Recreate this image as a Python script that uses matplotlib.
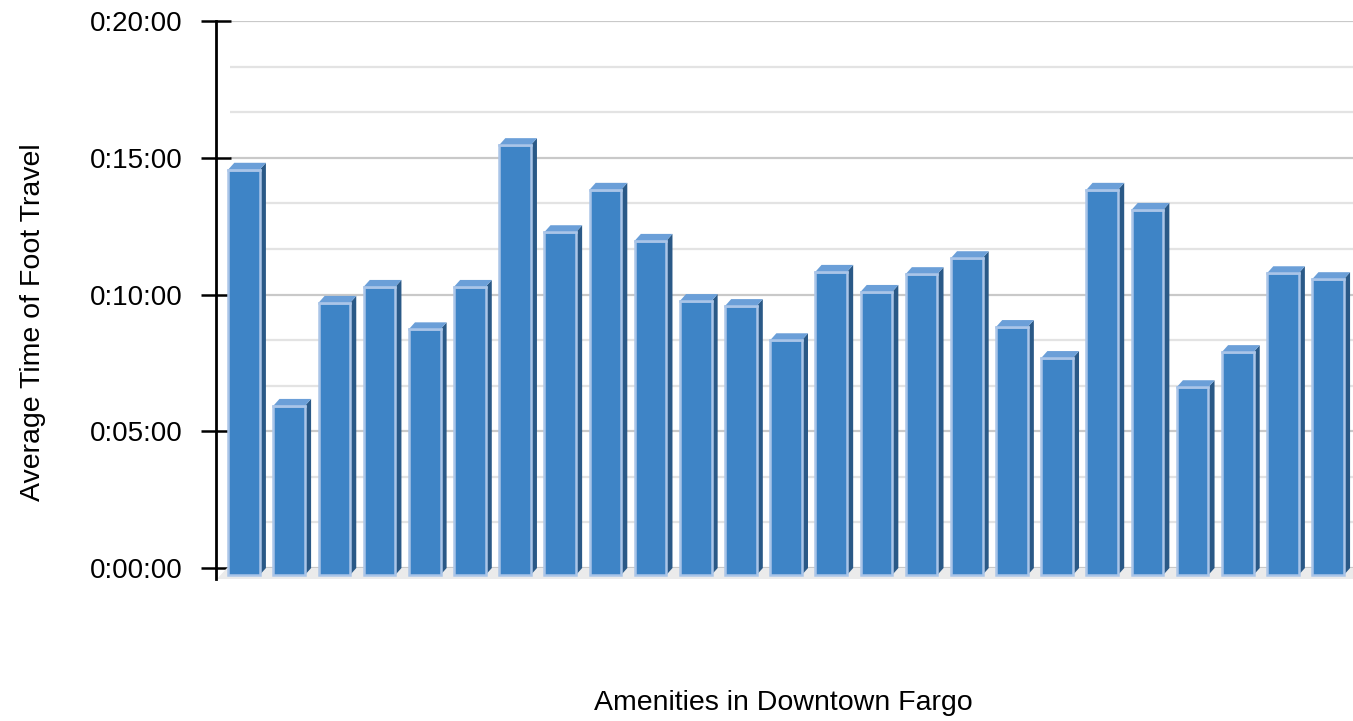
import matplotlib
matplotlib.use("Agg")
import matplotlib.pyplot as plt
from matplotlib.ticker import FuncFormatter
import numpy as np

plt.rcParams['font.family'] = ['Liberation Sans', 'DejaVu Sans']

# Average time of foot travel per amenity, in seconds (25 amenities, unlabeled)
amenities = [f"Amenity {i+1}" for i in range(25)]
travel_seconds = [889, 371, 597, 632, 539, 632, 943, 752, 845, 733,
                  601, 590, 515, 665, 621, 660, 695, 544, 476, 845,
                  801, 412, 489, 662, 649]
y_ticks_minutes = [0, 5, 10, 15, 20]

x_label = "Amenities in Downtown Fargo"
y_label = "Average Time of Foot Travel"

# styling
FRONT = "#3e84c6"
BORDER = "#aac5e8"
SIDE = "#2a5987"
TOP = "#6b9fd8"
FLOOR = "#ebebeb"

W, H = 1353, 721
fig = plt.figure(figsize=(W / 100, H / 100), dpi=100)
ax = fig.add_axes([216 / W, (H - 579) / H, (W - 216) / W, (579 - 21) / H])

vals = np.array(travel_seconds) / 60.0
n = len(vals)
x = np.arange(n)

dx = 0.135   # depth offset in x units
dy = 0.25    # depth offset in minutes
bw = 0.70    # bar front width

ax.set_xlim(-0.62, 24.55)
ax.set_ylim(-0.40, 20)

# back-wall gridlines
x_left_wall = -0.31
major = np.array(y_ticks_minutes, dtype=float)
minor = np.array([m for m in np.arange(0, 20.001, 5 / 3)
                  if min(abs(m - major)) > 1e-6])
ax.hlines(minor, x_left_wall, 24.55, colors="#e3e3e3", linewidth=1.6, zorder=1)
ax.hlines(major, x_left_wall, 24.55, colors="#c9c9c9", linewidth=1.6, zorder=1)

# floor
ax.fill([-0.60, 24.55, 24.55, -0.38], [-0.40, -0.40, 0.0, 0.0],
        color=FLOOR, zorder=2, linewidth=0)

# bars: front faces
ax.bar(x, vals, width=bw, bottom=-dy, color=FRONT, edgecolor=BORDER,
       linewidth=1.8, zorder=4)
# side & top faces derived from the values
for xi, v in zip(x, vals):
    r = xi + bw / 2
    l = xi - bw / 2
    ax.fill([r, r + dx, r + dx, r], [-dy, 0, v, v - dy],
            color=SIDE, zorder=3, linewidth=0)
    ax.fill([l, l + dx, r + dx, r], [v - dy, v, v, v - dy],
            color=TOP, zorder=5, linewidth=0)
    ax.plot([l, r], [v - dy, v - dy], color=BORDER, linewidth=1.8, zorder=6,
            solid_capstyle='projecting')

# axes styling
for s in ["top", "right", "bottom"]:
    ax.spines[s].set_visible(False)
ax.spines["left"].set_linewidth(2.0)
ax.spines["left"].set_color("black")
ax.set_xticks([])
ax.set_yticks(y_ticks_minutes)
ax.yaxis.set_major_formatter(FuncFormatter(
    lambda v, p: f"{int(v // 60)}:{int(v % 60):02d}:00"))
ax.tick_params(axis="y", direction="inout", length=21, width=1.8,
               pad=13.5, labelsize=20, colors="black")
ax.set_facecolor("none")

fig.text(33 / W, 1 - 322 / H, y_label, rotation=90, ha="center", va="center",
         fontsize=20.5)
fig.text(783.5 / W, 1 - 703 / H, x_label, ha="center", va="center",
         fontsize=20.5)

fig.savefig("out.png", dpi=100)
